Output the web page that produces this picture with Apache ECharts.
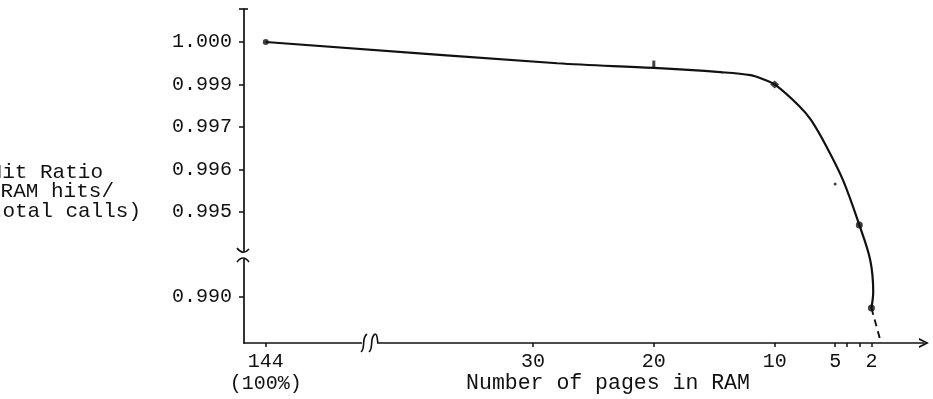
<!DOCTYPE html>
<html>
<head>
<meta charset="utf-8">
<script src="https://cdn.jsdelivr.net/npm/echarts@6/dist/echarts.min.js"></script>
<style>
  html, body { margin: 0; padding: 0; background: #fff; }
  #chart { width: 933px; height: 399px; }
</style>
</head>
<body>
<div id="chart"></div>
<script>
// Hit ratio of the RAM page cache against the number of pages kept in RAM
const pageTicks = [144, 30, 20, 10, 5, 4, 3, 2];
const pageLabels = [144, 30, 20, 10, 5, 2];
const ratioLabels = [1.000, 0.999, 0.997, 0.996, 0.995, 0.990];

// measured runs
const pointPages = [144, 20, 10, 5, 3, 2];
const pointRatios = [1.000, 0.99948, 0.999, 0.99566, 0.99424, 0.98974];

// hand-fitted curve through the runs
const curvePages = [144, 28, 20, 14.5, 12, 11, 10, 8, 7, 5.7, 4.35, 3, 2.1, 1.85, 2];
const curveRatios = [1.000, 0.9995, 0.99939, 0.99929, 0.99922, 0.99913, 0.999, 0.998, 0.99733, 0.99653, 0.99575, 0.99424, 0.99218, 0.9903, 0.98974];

// dashed extrapolation down to the axis
const tailPages = [2, 1.2];
const tailRatios = [0.98974, 0.98892];

const FONT = '"Liberation Mono", "DejaVu Sans Mono", monospace';
const INK = '#111';

const zip = (xs, ys) => xs.map((x, i) => [x, ys[i]]);

// per-run marker look
const markLook = [
  { symbol: 'circle', symbolSize: 6 },
  { symbol: 'rect', symbolSize: [3, 7] },
  { symbol: 'diamond', symbolSize: [9, 8] },
  { symbol: 'circle', symbolSize: 3 },
  { symbol: 'circle', symbolSize: 7 },
  { symbol: 'circle', symbolSize: 7 }
];

const chart = echarts.init(document.getElementById('chart'), null, { renderer: 'canvas' });

const textStyle = { fontFamily: FONT, fontSize: 20, color: INK };
const arrowPath = 'path://M5 0 L10 10 L8 10 L5 3.5 L2 10 L0 10 Z';
const stroke = { stroke: INK, fill: 'none', lineWidth: 1.6 };
const axisInk = { color: INK, width: 1.7 };
const captionFont = '21px ' + FONT;

// plain frame axes: they only draw the unbroken axis lines
const frameAxis = {
  type: 'value', min: 0, max: 1,
  axisTick: { show: false }, axisLabel: { show: false }, splitLine: { show: false }
};

const option = {
  animation: false,
  backgroundColor: '#fff',
  grid: { left: 244, right: 9, top: 9, bottom: 56, containLabel: false },
  xAxis: [
    {
      type: 'value',
      inverse: true,
      min: -2.35,
      max: 145.8,
      breaks: [{ start: 32, end: 142, gap: 18.1 }],
      breakArea: { show: false },
      splitLine: { show: false },
      axisLine: { show: false, onZero: false },
      axisTick: { show: true, customValues: pageTicks, length: 4, lineStyle: { color: INK, width: 1.5 } },
      axisLabel: {
        customValues: pageLabels,
        margin: 8,
        ...textStyle,
        lineHeight: 22,
        formatter: v => (v === 144 ? '144\n(100%)' : String(v))
      }
    },
    {
      ...frameAxis,
      position: 'bottom',
      axisLine: { show: true, onZero: false, lineStyle: axisInk, symbol: ['none', arrowPath], symbolSize: [10, 14] }
    }
  ],
  yAxis: [
    {
      type: 'value',
      min: 0.988917,
      max: 1.000776,
      breaks: [
        { start: 0.997, end: 0.999, gap: 0.001 },
        { start: 0.990, end: 0.995, gap: 0.002 }
      ],
      breakArea: { show: false },
      splitLine: { show: false },
      axisLine: { show: false, onZero: false },
      axisTick: { show: true, customValues: ratioLabels, length: 5, lineStyle: { color: INK, width: 1.5 } },
      axisLabel: {
        customValues: ratioLabels,
        margin: 12,
        ...textStyle,
        formatter: v => v.toFixed(3)
      }
    },
    {
      ...frameAxis,
      position: 'left',
      axisLine: { show: true, onZero: false, lineStyle: axisInk }
    }
  ],
  series: [
    {
      type: 'line',
      data: zip(curvePages, curveRatios),
      smooth: 0.35,
      showSymbol: false,
      lineStyle: { color: INK, width: 2.2 },
      z: 3
    },
    {
      type: 'line',
      data: zip(tailPages, tailRatios),
      showSymbol: false,
      lineStyle: { color: INK, width: 1.9, type: [7, 5] },
      z: 3
    },
    {
      type: 'scatter',
      data: zip(pointPages, pointRatios).map((p, i) => ({ value: p, ...markLook[i] })),
      itemStyle: { color: INK },
      z: 4
    }
  ],
  graphic: [
    // axis caption, partly running off the left edge
    { type: 'text', x: 103, y: 172, z: 100, style: { text: 'Hit Ratio', font: captionFont, fill: INK, align: 'right', verticalAlign: 'middle' } },
    { type: 'text', x: 114, y: 191, z: 100, style: { text: '(RAM hits/', font: captionFont, fill: INK, align: 'right', verticalAlign: 'middle' } },
    { type: 'text', x: 141, y: 211, z: 100, style: { text: '(total calls)', font: captionFont, fill: INK, align: 'right', verticalAlign: 'middle' } },
    { type: 'text', x: 608, y: 383, z: 100, style: { text: 'Number of pages in RAM', font: '21.5px ' + FONT, fill: INK, align: 'center', verticalAlign: 'middle' } },
    // cap at the top of the ratio axis
    { type: 'line', z: 100, shape: { x1: 239, y1: 9, x2: 248, y2: 9 }, style: { stroke: INK, lineWidth: 1.6 } },
    // break marks on the ratio axis
    { type: 'rect', z: 100, shape: { x: 240, y: 252, width: 8, height: 7 }, style: { fill: '#fff' } },
    { type: 'bezierCurve', z: 101, shape: { x1: 237, y1: 248, x2: 249, y2: 249, cpx1: 243, cpy1: 256 }, style: stroke },
    { type: 'bezierCurve', z: 101, shape: { x1: 237, y1: 262, x2: 249, y2: 262, cpx1: 243, cpy1: 254 }, style: stroke },
    // break marks on the page axis
    { type: 'rect', z: 100, shape: { x: 362, y: 339, width: 15, height: 8 }, style: { fill: '#fff' } },
    { type: 'bezierCurve', z: 101, shape: { x1: 367, y1: 334, x2: 361, y2: 352, cpx1: 361, cpy1: 338, cpx2: 366, cpy2: 348 }, style: stroke },
    { type: 'bezierCurve', z: 101, shape: { x1: 375, y1: 334, x2: 369, y2: 352, cpx1: 369, cpy1: 338, cpx2: 374, cpy2: 348 }, style: stroke },
    { type: 'bezierCurve', z: 101, shape: { x1: 375, y1: 334, x2: 378, y2: 343, cpx1: 378, cpy1: 334, cpx2: 377, cpy2: 341 }, style: stroke }
  ]
};

chart.setOption(option);
</script>
</body>
</html>
